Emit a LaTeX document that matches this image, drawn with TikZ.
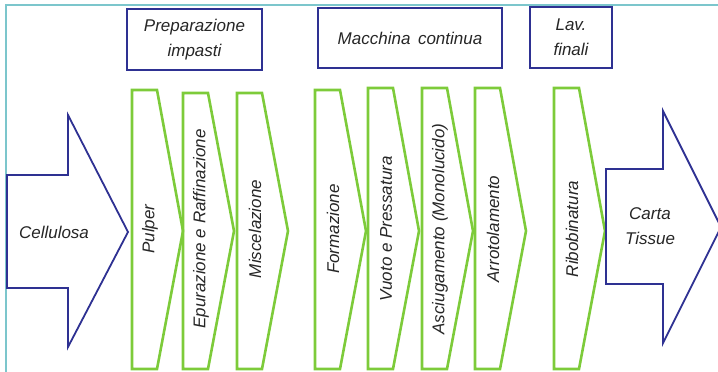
\documentclass[tikz,border=0pt]{standalone}
\usepackage{fontspec}
\setmainfont{Liberation Sans}
\definecolor{navy}{HTML}{2E3192}
\definecolor{lgreen}{HTML}{7DCB3A}
\definecolor{frameteal}{HTML}{7CC6CC}
\definecolor{txt}{HTML}{262626}
\tikzset{
  chev/.style={draw=lgreen, line width=2.6pt, line join=miter},
  bigarrow/.style={draw=navy, line width=1.8pt, line join=miter},
  hdr/.style={draw=navy, line width=1.8pt, inner sep=0pt, align=center,
    font=\fontsize{17}{25}\selectfont\itshape, text=txt},
  lbl/.style={font=\fontsize{17}{25}\selectfont\itshape, text=txt, align=center, inner sep=0pt},
}
\newcommand\mychevron[4]{%
  \draw[chev] (#1,#2) -- (#1+25,#2) -- (#1+51,231) -- (#1+25,369) -- (#1,369) -- cycle;
  \node[lbl, rotate=90] (#3) at (#1+18,229) {#4};
}
\begin{document}
\begin{tikzpicture}[x=1pt,y=-1pt]
\useasboundingbox (0,0) rectangle (718,372);
\clip (0,0) rectangle (718,372);
\draw[frameteal, line width=2pt] (6,380) -- (6,5) -- (730,5);

% headers
\node[hdr, minimum width=135pt, minimum height=61pt] (prep) at (194.5,39.5) {Preparazione\\impasti};
\node[hdr, minimum width=184pt, minimum height=60pt] (macc) at (410,38) {Macchina\, continua};
\node[hdr, minimum width=82pt, minimum height=61pt] (lav) at (571,37.5) {Lav.\\finali};

% input arrow
\draw[bigarrow] (7,175) -- (68,175) -- (68,115) -- (128,232) -- (68,347) -- (68,288) -- (7,288) -- cycle;
\node[lbl] (cell) at (54,232) {Cellulosa};

% chevrons
\mychevron{132}{90}{pulper}{Pulper}
\mychevron{183}{93}{epur}{Epurazione e Raffinazione}
\mychevron{237}{93}{misc}{Miscelazione}
\mychevron{315}{90}{form}{Formazione}
\mychevron{368}{88}{vuoto}{Vuoto e Pressatura}
\mychevron{422}{88}{asciu}{Asciugamento (Monolucido)}
\mychevron{475}{88}{arrot}{Arrotolamento}
\mychevron{554}{88}{ribo}{Ribobinatura}

% output arrow
\draw[bigarrow] (606,169) -- (663,169) -- (663,111) -- (721,227) -- (663,343) -- (663,284) -- (606,284) -- cycle;
\node[lbl] (carta) at (650,226) {Carta\\Tissue};
\end{tikzpicture}
\end{document}
